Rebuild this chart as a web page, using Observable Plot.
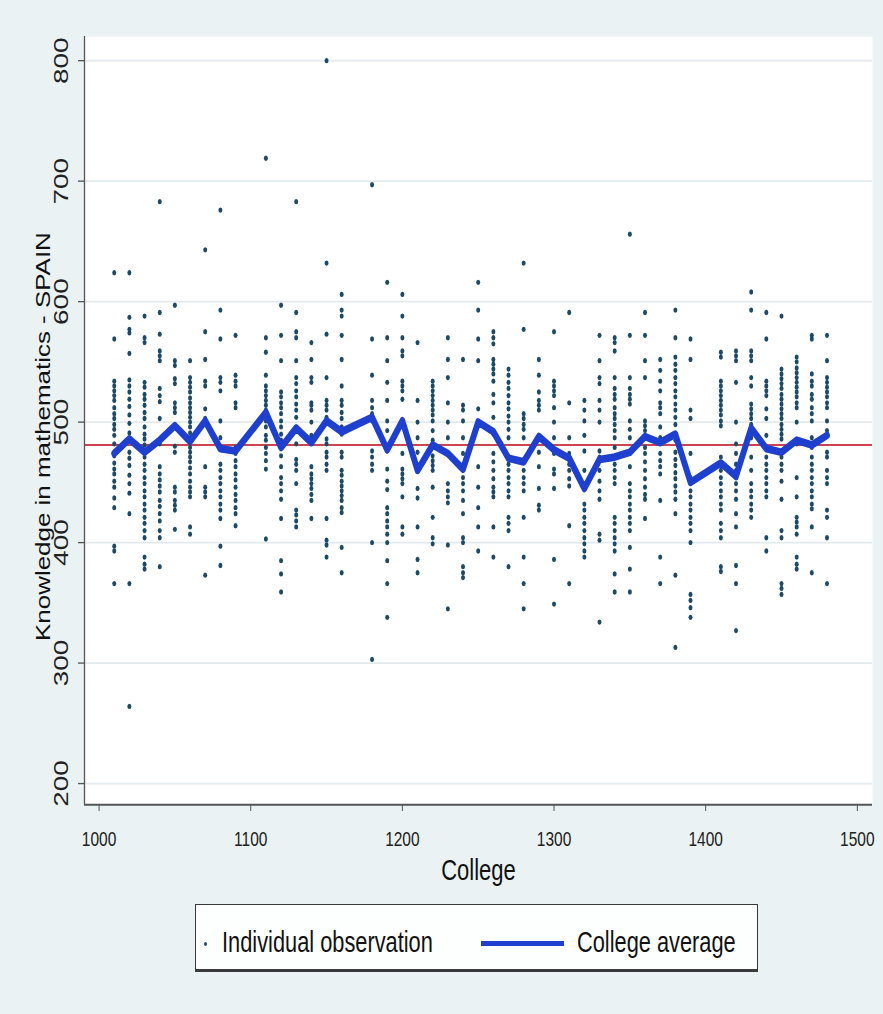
<!DOCTYPE html>
<html><head><meta charset="utf-8">
<script src="https://cdn.jsdelivr.net/npm/d3@7"></script>
<script src="https://cdn.jsdelivr.net/npm/@observablehq/plot@0.6"></script>
<style>
html,body{margin:0;padding:0;background:#eaf2f3;}
body{min-height:1014px;}
#wrap{position:relative;width:883px;height:1014px;font-family:"Liberation Sans",Arial,sans-serif;}
#chart{position:absolute;left:0;top:0;}
#legend{position:absolute;left:195px;top:904px;width:563px;height:68px;background:#fdfefe;border:1px solid #3a3a3a;border-bottom-width:3px;box-sizing:border-box;}
#legend .t{position:absolute;top:23px;font-size:21.8px;line-height:21px;color:#111;white-space:nowrap;transform:scaleY(1.33);transform-origin:0 0;}
#legend .dot{position:absolute;left:8px;top:37px;width:3px;height:4px;border-radius:50%;background:#1c4a66;}
#legend .sw{position:absolute;left:285px;top:36px;width:83px;height:5px;background:#1f3fcf;}
</style></head>
<body>
<div id="wrap"><div id="chart"></div>
<div id="legend"><div class="dot"></div><div class="t" id="l1" style="left:26px"></div><div class="sw"></div><div class="t" id="l2" style="left:381px"></div></div>
</div>
<script>
const colleges = [1010,1020,1030,1040,1050,1060,1070,1080,1090,1110,1120,1130,1140,1150,1160,1180,1190,1200,1210,1220,1230,1240,1250,1260,1270,1280,1290,1300,1310,1320,1330,1340,1350,1360,1370,1380,1390,1410,1420,1430,1440,1450,1460,1470,1480];
const averages = [474,486,475,485,497,484,501,478,476,508,479,495,483,501,492,504,477,501,460,481,474,461,500,492,470,467,488,477,470,445,469,471,475,488,483,490,450,466,455,495,478,475,485,481,489];
const observations = [
[624,569,534,530,526,522,518,512,507,503,498,494,489,482,472,466,461,457,451,446,437,429,397,393,366],
[624,587,577,574,557,535,530,525,519,513,506,499,491,484,475,470,464,456,449,441,424,366,264],
[588,570,566,533,529,523,519,514,508,503,496,490,486,481,475,471,465,460,454,449,443,438,432,427,421,416,410,404,388,382,378],
[683,591,573,559,555,551,528,522,517,503,482,463,457,452,447,442,435,430,424,418,410,404,380],
[597,551,547,536,532,516,512,508,497,480,475,446,442,435,431,427,411],
[551,537,533,529,525,520,516,512,508,504,500,496,491,487,483,479,475,471,467,462,457,451,446,442,438,413,407],
[643,575,552,534,530,511,503,463,446,442,438,373],
[676,593,569,537,533,526,501,487,465,460,454,449,443,438,432,427,420,397,381],
[572,539,534,530,516,512,479,474,468,463,457,452,446,440,435,429,424,414],
[719,570,558,539,530,526,522,518,514,510,506,501,496,489,485,479,474,468,461,403],
[597,572,551,525,521,516,512,507,501,496,490,485,479,472,463,454,449,443,436,420,385,374,359],
[683,591,575,570,551,537,532,526,521,515,510,504,496,482,469,465,460,449,427,423,418,413],
[566,552,537,533,516,514,510,500,489,463,457,453,449,445,440,435,420],
[800,632,573,537,518,514,510,504,500,486,482,475,471,465,460,420,402,398,388],
[606,593,588,572,552,530,518,514,508,503,496,490,475,471,460,456,451,447,443,439,435,429,425,396,375],
[697,569,539,518,512,507,501,476,471,465,460,400,303],
[616,570,551,533,518,501,493,461,451,444,429,424,418,413,407,400,385,366,338],
[606,588,570,559,555,534,530,526,519,474,461,457,453,449,438,413,407],
[566,518,500,487,475,461,445,437,413,386,375],
[534,530,526,522,518,514,510,506,501,493,485,472,468,464,460,446,421,404,399],
[570,552,537,516,500,487,449,443,438,433,398,345],
[552,514,510,501,487,474,454,449,443,435,424,404,400,380,375,371],
[616,593,569,551,511,463,446,429,413,393],
[575,570,565,552,548,544,540,534,523,516,504,490,474,467,460,453,446,442,438,413,388],
[544,539,533,528,522,516,511,505,500,494,487,471,465,460,454,449,443,438,421,416,410,380],
[632,577,507,503,498,494,487,460,454,449,443,421,388,366,345],
[552,539,525,518,514,510,487,475,463,445,431,427],
[575,534,530,526,522,512,500,487,474,461,457,445,386,349],
[591,516,487,474,465,460,453,447,414,366],
[518,510,501,489,476,460,446,432,427,421,416,410,404,399,393,388],
[572,551,537,532,518,510,500,476,471,460,451,443,436,407,402,334],
[570,566,559,537,528,523,519,512,507,503,498,493,487,479,471,465,460,454,449,421,416,410,404,399,393,374,359],
[656,572,537,528,523,519,515,501,494,487,474,463,449,443,438,432,427,421,416,410,396,378,359],
[591,572,551,537,501,497,493,487,479,474,467,460,453,446,440,436,420],
[552,543,534,526,516,512,507,496,487,474,468,463,457,435,388,366],
[593,570,554,548,543,537,532,526,521,515,510,504,498,490,485,475,469,464,458,453,447,442,436,424,373,313],
[569,552,510,503,474,454,443,438,432,427,421,416,410,400,357,352,346,338],
[558,554,534,530,526,522,518,514,510,506,501,497,471,465,460,454,449,443,438,432,427,416,410,404,380,376],
[559,555,551,533,500,482,474,465,460,454,449,443,436,424,413,381,366,327],
[608,593,559,555,551,537,530,515,511,507,503,498,494,490,487,471,460,449,443,438,432,427,421],
[591,569,534,530,526,522,511,503,489,471,465,460,454,449,443,438,404,393],
[588,544,540,536,532,528,523,519,515,511,507,503,498,494,490,486,476,471,465,460,451,436,410,404,366,362,357],
[554,550,545,541,537,533,529,525,521,516,512,500,482,454,438,421,417,413,407,388,382,378],
[572,569,540,534,530,523,519,512,507,501,487,479,471,465,460,454,449,443,438,432,428,413,375],
[572,551,537,533,529,525,521,516,512,501,493,475,471,460,454,449,427,421,404,366]
];
const overallMean = 481;
const xTicks = [1000,1100,1200,1300,1400,1500];
const yTicks = [200,300,400,500,600,700,800];
const xDomain = [990.4,1510];
const yDomain = [182.5,820];
const legendLabels = ["Individual observation","College average"];

document.getElementById("l1").textContent = legendLabels[0];
document.getElementById("l2").textContent = legendLabels[1];

const rows = colleges.flatMap((c,i)=>observations[i].map(v=>({college:c, score:v})));
const avg = colleges.map((c,i)=>({college:c, score:averages[i]}));

const W = 883, H = 670, S = 1.33;
const chart = Plot.plot({
  width:W, height:H, marginLeft:84, marginRight:11, marginTop:27, marginBottom:65.5,
  style:{background:"transparent", fontFamily:"Liberation Sans, Arial, sans-serif", color:"#222", overflow:"visible"},
  x:{domain:xDomain}, y:{domain:yDomain},
  marks:[
    Plot.frame({fill:"white", stroke:null}),
    Plot.gridY(yTicks, {stroke:"#e2eaee", strokeOpacity:1, strokeWidth:1.4}),
    Plot.ruleY([overallMean], {stroke:"#cc4450", strokeWidth:1.6}),
    Plot.dot(rows, {x:"college", y:"score", r:2.0, fill:"#1c4a66", stroke:null}),
    Plot.line(avg, {x:"college", y:"score", stroke:"#1f3fcf", strokeWidth:5.8, strokeLinejoin:"round", strokeLinecap:"round"}),
    Plot.ruleX([xDomain[0]], {stroke:"#555", strokeWidth:1.3}),
    Plot.ruleY([yDomain[0]], {stroke:"#555", strokeWidth:1.5}),
    Plot.axisY(yTicks, {tickSize:6, tickRotate:-90, fontSize:21, tickPadding:11, tickFormat:"d", stroke:"#555", label:"Knowledge in mathematics - SPAIN", labelAnchor:"center", labelOffset:48, labelArrow:"none"}),
    Plot.axisX(xTicks, {tickSize:5.3, fontSize:15.5, tickPadding:15, tickFormat:"d", stroke:"#555", label:"College", labelAnchor:"center", labelOffset:57, labelArrow:"none"})
  ]
});
chart.setAttribute("viewBox", `0 0 ${W} ${H}`);
chart.setAttribute("width", W);
chart.setAttribute("height", H * S);
chart.setAttribute("preserveAspectRatio", "none");
chart.style.width = W + "px";
chart.style.height = (H * S) + "px";
chart.style.maxWidth = "none";
document.getElementById("chart").appendChild(chart);
const svg = d3.select(chart);
svg.selectAll('g[aria-label="y-axis label"] text').style("font-size","19.5px").style("fill","#111")
  .attr("transform", function(){ return (this.getAttribute("transform")||"") + " translate(-12,0)"; });
svg.selectAll('g[aria-label="x-axis label"] text').style("font-size","22px").style("fill","#111");
svg.selectAll('g[aria-label="x-axis tick label"] text').style("font-family","'Liberation Sans Narrow', 'Liberation Sans', Arial, sans-serif").style("fill","#222");
svg.selectAll('g[aria-label="y-axis tick label"] text').style("fill","#222");
</script>
</body></html>
